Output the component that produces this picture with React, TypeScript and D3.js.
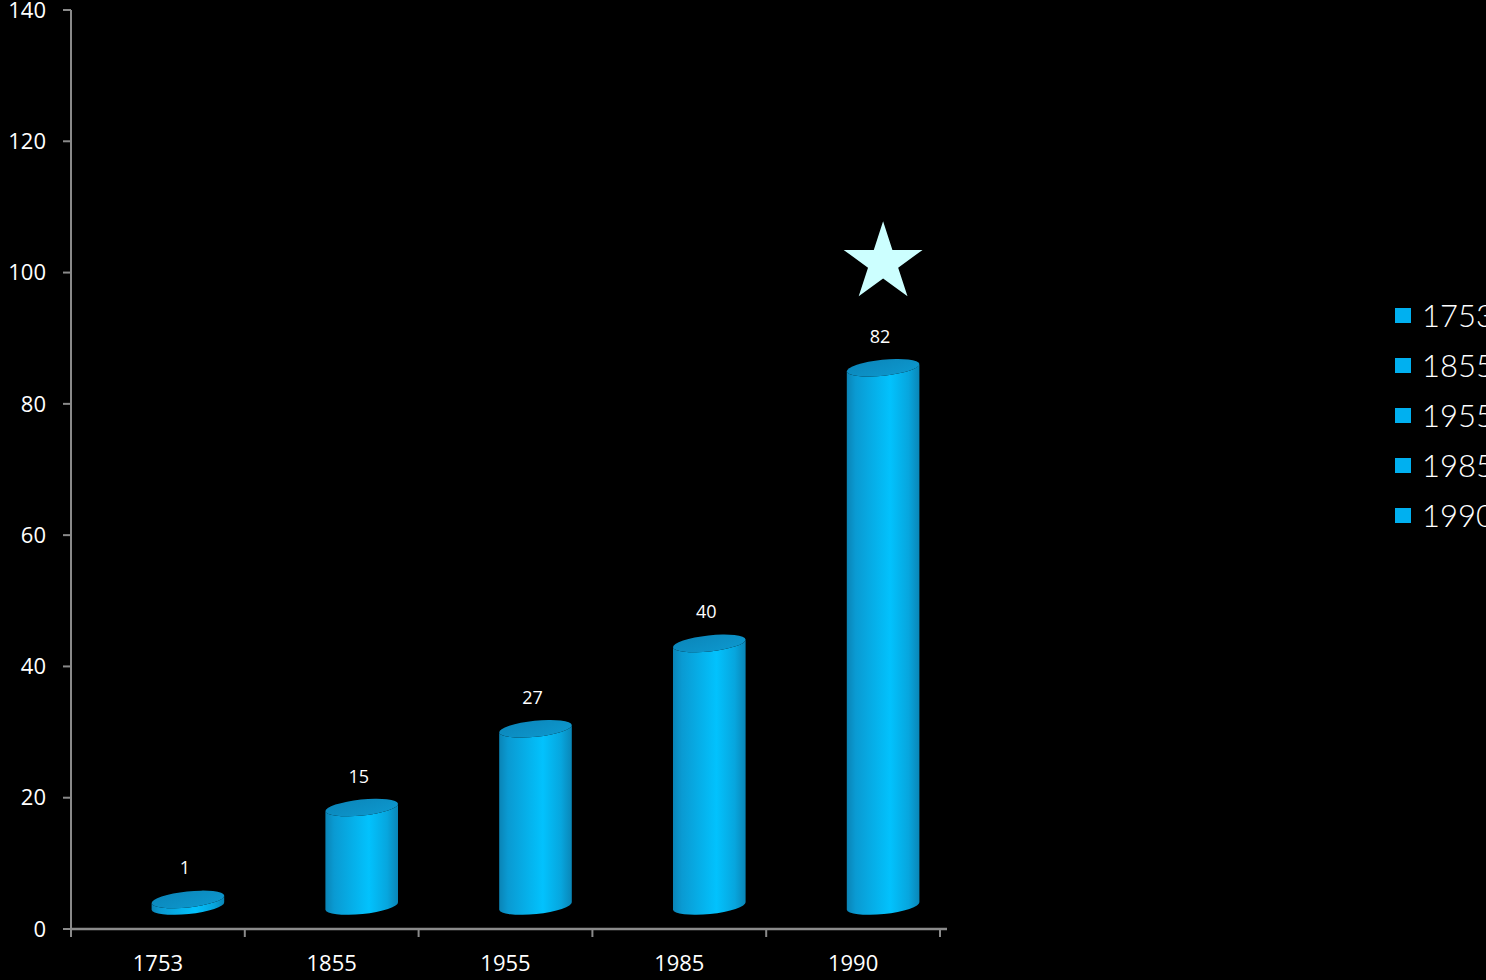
import React from "react";
import * as d3 from "d3";

const categories = ["1753", "1855", "1955", "1985", "1990"];
const values = [1, 15, 27, 40, 82];
const yTicks = [0, 20, 40, 60, 80, 100, 120, 140];
const legendItems = ["1753", "1855", "1955", "1985", "1990"];

const W = 1486;
const H = 980;

export default function App() {
  const x = d3.scaleBand<string>().domain(categories).range([71, 940]).padding(0);
  const y = d3.scaleLinear().domain([0, 140]).range([929, 10]);
  const depthDx = 30;
  const depthDy = -23;
  const rx = 36.5;
  const ry = 8;
  const rot = -6;
  const th = (rot * Math.PI) / 180;
  const ex = rx * Math.cos(th);
  const ey = rx * Math.sin(th);

  const starPts = () => {
    const cx = (x("1990") as number) + x.bandwidth() / 2 + depthDx;
    const cy = y(values[4]) + depthDy - 105;
    const R = 41.5;
    const r = R * 0.382;
    const pts: string[] = [];
    for (let i = 0; i < 10; i++) {
      const a = -Math.PI / 2 + (i * Math.PI) / 5;
      const rr = i % 2 === 0 ? R : r;
      pts.push(`${cx + rr * Math.cos(a)},${cy + rr * Math.sin(a)}`);
    }
    return pts.join(" ");
  };

  const font = "'Open Sans', 'Noto Sans', sans-serif";

  return (
    <svg
      width={W}
      height={H}
      style={{ position: "fixed", left: 0, top: 0, background: "#000", display: "block" }}
    >
      <defs>
        <linearGradient id="body" x1="0" x2="1" y1="0" y2="0">
          <stop offset="0" stopColor="#0a84b6" />
          <stop offset="0.12" stopColor="#0a9ad2" />
          <stop offset="0.6" stopColor="#02c2fd" />
          <stop offset="0.85" stopColor="#07a6de" />
          <stop offset="1" stopColor="#0a86b7" />
        </linearGradient>
        <linearGradient id="top" x1="0" x2="1" y1="0" y2="1">
          <stop offset="0" stopColor="#0b86ba" />
          <stop offset="1" stopColor="#0d98ce" />
        </linearGradient>
      </defs>
      <rect x={0} y={0} width={W} height={H} fill="#000" />

      {/* axes */}
      <line x1={71} x2={71} y1={y(140)} y2={y(0) + 8} stroke="#8a8a8a" strokeWidth={2} />
      <line x1={71} x2={947} y1={y(0)} y2={y(0)} stroke="#8a8a8a" strokeWidth={2.5} />
      {yTicks.map((t) => (
        <g key={t}>
          <line x1={63} x2={71} y1={y(t)} y2={y(t)} stroke="#8a8a8a" strokeWidth={2} />
          <text
            x={46}
            y={y(t)}
            dy="0.35em"
            textAnchor="end"
            fill="#fff"
            fontFamily={font}
            fontSize={22}
          >
            {t}
          </text>
        </g>
      ))}
      {categories.map((c) => (
        <line
          key={"t" + c}
          x1={x(c) as number}
          x2={x(c) as number}
          y1={y(0)}
          y2={y(0) + 8}
          stroke="#8a8a8a"
          strokeWidth={2}
        />
      ))}
      <line x1={940} x2={940} y1={y(0)} y2={y(0) + 8} stroke="#8a8a8a" strokeWidth={2} />
      {categories.map((c) => (
        <text
          key={"l" + c}
          x={(x(c) as number) + x.bandwidth() / 2}
          y={963}
          dy="0.35em"
          textAnchor="middle"
          fill="#fff"
          fontFamily={font}
          fontSize={22}
        >
          {c}
        </text>
      ))}

      {/* cylinders */}
      {categories.map((c, i) => {
        const cx = (x(c) as number) + x.bandwidth() / 2 + depthDx;
        const yb = y(0) + depthDy;
        const yt = y(values[i]) + depthDy;
        const body = `M${cx - ex},${yt - ey} L${cx - ex},${yb - ey} A${rx},${ry} ${rot} 0 0 ${cx + ex},${yb + ey} L${cx + ex},${yt + ey} A${rx},${ry} ${rot} 0 1 ${cx - ex},${yt - ey} Z`;
        return (
          <g key={"c" + c}>
            <path d={body} fill="url(#body)" />
            <ellipse
              cx={cx}
              cy={yt}
              rx={rx}
              ry={ry}
              transform={`rotate(${rot} ${cx} ${yt})`}
              fill="url(#top)"
            />
            <text
              x={cx - 3}
              y={yt - 25}
              textAnchor="middle"
              fill="#fff"
              fontFamily={font}
              fontSize={18}
            >
              {values[i]}
            </text>
          </g>
        );
      })}

      <polygon points={starPts()} fill="#ccffff" />

      {/* legend */}
      {legendItems.map((l, i) => (
        <g key={"lg" + l}>
          <rect x={1395} y={308 + i * 50} width={16} height={15} fill="#00b0f0" />
          <text
            x={1422}
            y={315.5 + i * 50}
            dy="0.36em"
            fill="#fff"
            fontFamily="'Lato', 'DejaVu Sans', sans-serif"
            fontWeight={300}
            fontSize={31}
          >
            {l}
          </text>
        </g>
      ))}
    </svg>
  );
}
